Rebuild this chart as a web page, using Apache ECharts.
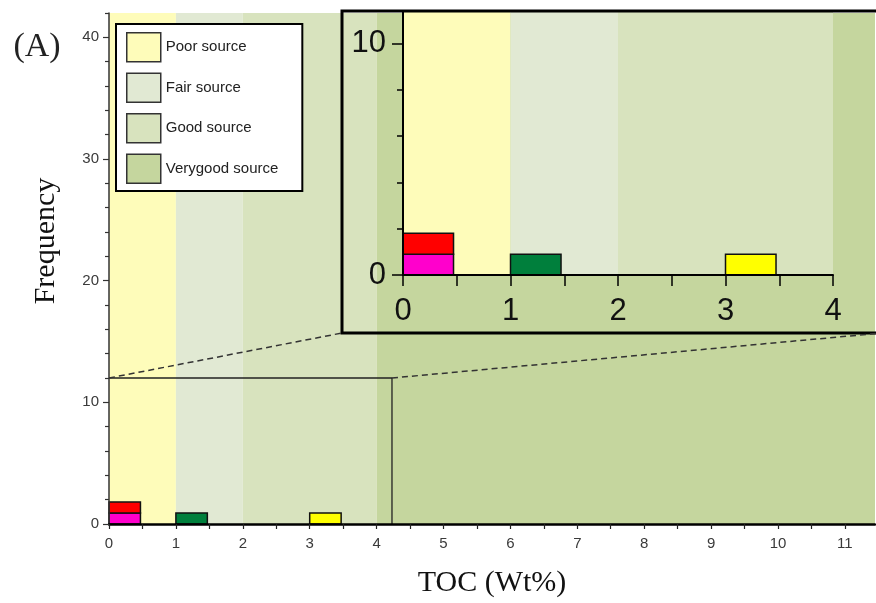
<!DOCTYPE html>
<html><head><meta charset="utf-8">
<script src="https://cdn.jsdelivr.net/npm/echarts@6/dist/echarts.min.js"></script>
<style>html,body{margin:0;padding:0;background:#fff}#c{width:876px;height:603px}</style>
</head><body><div id="c"></div>
<script>
// ---- data ----
const bandNames = ['Poor source', 'Fair source', 'Good source', 'Verygood source'];
const bandStart = [0, 1, 2, 4];
const bandEnd = [1, 2, 4, 11.45];
const barStart = [0, 0, 1, 3];
const barEnd = [0.47, 0.47, 1.47, 3.47];
const barBase = [0, 0.9, 0, 0];
const barValue = [0.9, 0.9, 0.9, 0.9];
const mainXLabels = [0, 1, 2, 3, 4, 5, 6, 7, 8, 9, 10, 11];
const mainXTicks = [0, 0.5, 1, 1.5, 2, 2.5, 3, 3.5, 4, 4.5, 5, 5.5, 6, 6.5, 7, 7.5, 8, 8.5, 9, 9.5, 10, 10.5, 11];
const mainYLabels = [0, 10, 20, 30, 40];
const mainYMinor = [2, 4, 6, 8, 12, 14, 16, 18, 22, 24, 26, 28, 32, 34, 36, 38, 42];
const insetXLabels = [0, 1, 2, 3, 4];
const insetYLabels = [0, 10];
const insetYMinor = [2, 4, 6, 8];
const mainXRange = [0, 11.45];
const mainYRange = [0, 42];
const insetXRange = [0, 4];
const insetYRange = [0, 11.35];
const zoomX = [0, 4.23];
const zoomY = [0, 12];

// ---- styles ----
const bandColors = ['#FEFCBA', '#E1E9D3', '#D8E3BE', '#C5D69E'];
const barColors = ['#FF00CC', '#FF0000', '#007F3C', '#FFFF00'];
const sans = 'Liberation Sans, Arial, sans-serif';
const serif = 'Liberation Serif, Times New Roman, serif';
const insetFont = 'Liberation Sans Narrow, Liberation Sans, Arial, sans-serif';
const insetBox = {x: 342, y: 11, w: 540, h: 322};

function bandRender(params, api) {
  const cs = params.coordSys;
  let x0 = api.coord([api.value(0), 0])[0];
  let x1 = api.coord([api.value(1), 0])[0];
  x0 = Math.max(x0, cs.x); x1 = Math.min(x1, cs.x + cs.width);
  if (x1 <= x0) return;
  return {type: 'rect', shape: {x: x0, y: cs.y, width: x1 - x0, height: cs.height},
    style: {fill: api.visual('color')}};
}
function barRender(params, api) {
  const p0 = api.coord([api.value(0), api.value(2) + api.value(3)]);
  const p1 = api.coord([api.value(1), api.value(2)]);
  return {type: 'rect', shape: {x: p0[0], y: p0[1], width: p1[0] - p0[0], height: p1[1] - p0[1]},
    style: {fill: barColors[params.dataIndex], stroke: '#111', lineWidth: 1.5}};
}
const barData = barStart.map((s, i) => [s, barEnd[i], barBase[i], barValue[i]]);

const series = [];
bandNames.forEach((n, i) => {
  series.push({type: 'custom', name: n, xAxisIndex: 0, yAxisIndex: 0, z: 1, silent: true,
    itemStyle: {color: bandColors[i]}, renderItem: bandRender,
    encode: {x: [0, 1]}, data: [[bandStart[i], bandEnd[i]]]});
});
series.push({type: 'custom', name: 'bars', xAxisIndex: 0, yAxisIndex: 0, z: 3, silent: true,
  renderItem: barRender, encode: {x: [0, 1], y: [2, 3]}, data: barData});
series.push({type: 'line', name: 'zoom', xAxisIndex: 0, yAxisIndex: 0, z: 4, silent: true,
  showSymbol: false, symbol: 'none', lineStyle: {color: '#222', width: 1.3},
  data: [[zoomX[0], zoomY[1]], [zoomX[1], zoomY[1]], [zoomX[1], zoomY[0]]]});
bandNames.forEach((n, i) => {
  series.push({type: 'custom', name: n, xAxisIndex: 1, yAxisIndex: 2, z: 5, silent: true,
    itemStyle: {color: bandColors[i]}, renderItem: bandRender,
    encode: {x: [0, 1]}, data: [[bandStart[i], bandEnd[i]]]});
});
series.push({type: 'custom', name: 'bars2', xAxisIndex: 1, yAxisIndex: 2, z: 6, silent: true,
  renderItem: barRender, encode: {x: [0, 1], y: [2, 3]}, data: barData});

const chart = echarts.init(document.getElementById('c'), null, {renderer: 'canvas'});
chart.setOption({
  animation: false,
  grid: [
    {left: 109, right: 1, top: 13, bottom: 77},
    {left: 403, right: 43, top: 12, bottom: 328}
  ],
  legend: {
    data: bandNames, orient: 'vertical', left: 116, top: 24, icon: 'rect',
    itemWidth: 34, itemHeight: 29, itemGap: 10, selectedMode: false,
    padding: [8, 24, 7, 10], backgroundColor: '#fff', borderColor: '#000', borderWidth: 2,
    itemStyle: {borderColor: '#333', borderWidth: 1.5},
    textStyle: {fontSize: 15, fontFamily: sans, color: '#222'}
  },
  xAxis: [
    {type: 'value', gridIndex: 0, min: mainXRange[0], max: mainXRange[1], z: 10,
     splitLine: {show: false},
     axisLine: {lineStyle: {color: '#000', width: 2.5}},
     axisTick: {customValues: mainXTicks, length: 5, lineStyle: {color: '#222', width: 1.2}},
     axisLabel: {customValues: mainXLabels, fontSize: 15, fontFamily: sans, color: '#3a3a3a', margin: 12},
     name: 'TOC (Wt%)', nameLocation: 'middle', nameGap: 44,
     nameTextStyle: {fontSize: 30, fontFamily: serif, color: '#111'}},
    {type: 'value', gridIndex: 1, min: insetXRange[0], max: insetXRange[1], interval: 1, z: 10,
     splitLine: {show: false},
     axisLine: {lineStyle: {color: '#000', width: 2}},
     axisTick: {length: 11, lineStyle: {color: '#000', width: 1.5}},
     minorTick: {show: true, splitNumber: 2, length: 11, lineStyle: {color: '#000', width: 1.5}},
     axisLabel: {customValues: insetXLabels, fontSize: 31, fontFamily: insetFont, color: '#111', margin: 21}}
  ],
  yAxis: [
    {type: 'value', gridIndex: 0, position: 'left', min: mainYRange[0], max: mainYRange[1], z: 10,
     splitLine: {show: false},
     axisLine: {show: true, lineStyle: {color: '#333', width: 1.5}},
     axisTick: {show: true, customValues: mainYLabels, length: 6, lineStyle: {color: '#333', width: 1.2}},
     axisLabel: {customValues: mainYLabels, fontSize: 15, fontFamily: sans, color: '#3a3a3a', margin: 10}},
    {type: 'value', gridIndex: 0, position: 'left', offset: 0, min: mainYRange[0], max: mainYRange[1], z: 10,
     splitLine: {show: false}, axisLine: {show: false},
     axisTick: {show: true, customValues: mainYMinor, length: 4, lineStyle: {color: '#333', width: 1.2}},
     axisLabel: {show: false}},
    {type: 'value', gridIndex: 1, position: 'left', min: insetYRange[0], max: insetYRange[1], z: 10,
     splitLine: {show: false},
     axisLine: {show: true, lineStyle: {color: '#000', width: 2}},
     axisTick: {show: true, customValues: insetYLabels, length: 11, lineStyle: {color: '#000', width: 1.5}},
     axisLabel: {customValues: insetYLabels, fontSize: 31, fontFamily: insetFont, color: '#111', margin: 17}},
    {type: 'value', gridIndex: 1, position: 'left', offset: 0, min: insetYRange[0], max: insetYRange[1], z: 10,
     splitLine: {show: false}, axisLine: {show: false},
     axisTick: {show: true, customValues: insetYMinor, length: 6, lineStyle: {color: '#000', width: 1.5}},
     axisLabel: {show: false}}
  ],
  series: series
});

const pA = chart.convertToPixel({xAxisIndex: 0, yAxisIndex: 0}, [zoomX[0], zoomY[1]]);
const pB = chart.convertToPixel({xAxisIndex: 0, yAxisIndex: 0}, [zoomX[1], zoomY[1]]);
const bl = [insetBox.x, insetBox.y + insetBox.h];
const br = [insetBox.x + insetBox.w, insetBox.y + insetBox.h];
chart.setOption({
  graphic: [
    {type: 'text', x: 37, y: 47, z: 100, style: {text: '(A)', font: '34px ' + serif, fill: '#222', align: 'center', verticalAlign: 'middle'}},
    {type: 'text', x: 46, y: 241, rotation: Math.PI / 2, z: 100, style: {text: 'Frequency', font: '30px ' + serif, fill: '#111', align: 'center', verticalAlign: 'middle'}},
    {type: 'rect', z: 100, shape: {x: insetBox.x, y: insetBox.y, width: insetBox.w, height: insetBox.h}, style: {fill: null, stroke: '#000', lineWidth: 3}},
    {type: 'line', z: 100, shape: {x1: pA[0], y1: pA[1], x2: bl[0], y2: bl[1]}, style: {stroke: '#333', lineWidth: 1.5, lineDash: [6, 4]}},
    {type: 'line', z: 100, shape: {x1: pB[0], y1: pB[1], x2: br[0], y2: br[1]}, style: {stroke: '#333', lineWidth: 1.5, lineDash: [6, 4]}}
  ]
});
</script></body></html>
